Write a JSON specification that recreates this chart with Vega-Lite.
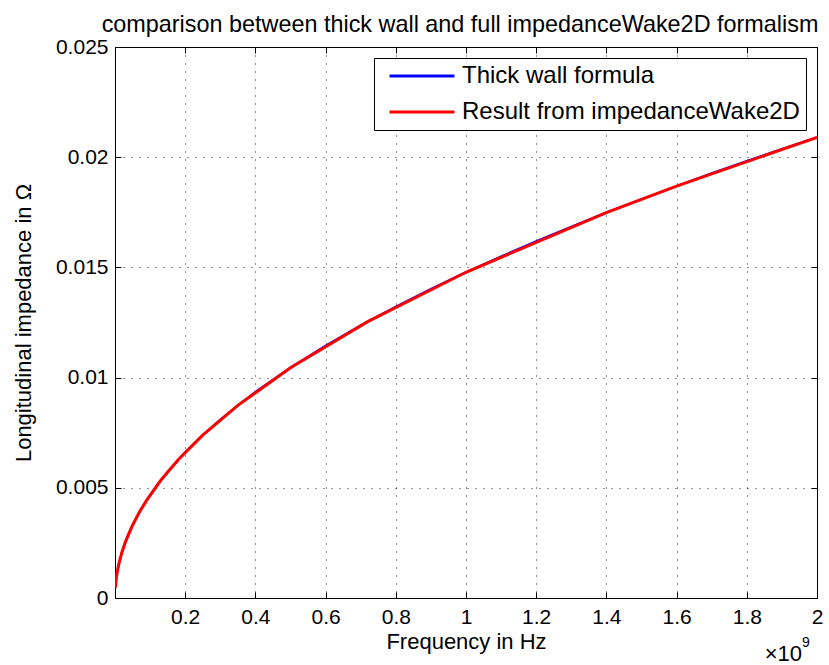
{
  "$schema": "https://vega.github.io/schema/vega-lite/v6.json",
  "width": 702,
  "height": 551,
  "autosize": {"type": "none"},
  "padding": {"left": 115, "top": 47, "right": 12, "bottom": 67},
  "background": "white",
  "title": {
    "text": "comparison between thick wall and full impedanceWake2D formalism",
    "fontSize": 23.4,
    "fontWeight": "normal",
    "color": "black",
    "anchor": "middle",
    "offset": -1,
    "dx": -6
  },
  "config": {
    "font": "Liberation Sans",
    "view": {"stroke": "black", "strokeWidth": 1},
    "axis": {
      "domainColor": "black",
      "tickColor": "black",
      "labelColor": "black",
      "titleColor": "black",
      "labelFontSize": 21,
      "titleFontSize": 22,
      "titleFontWeight": "normal",
      "gridColor": "#222222",
      "gridOpacity": 1,
      "gridDash": [1, 7],
      "gridWidth": 1,
      "tickSize": -6,
      "labelFlush": false,
      "labelOverlap": false
    },
    "legend": {
      "labelFontSize": 24,
      "labelColor": "black",
      "labelLimit": 600
    }
  },
  "data": {
    "values": [
      {"f": 0.001, "z": 0.00047, "series": "Thick wall formula"},
      {"f": 0.003, "z": 0.00081, "series": "Thick wall formula"},
      {"f": 0.005, "z": 0.00105, "series": "Thick wall formula"},
      {"f": 0.01, "z": 0.00148, "series": "Thick wall formula"},
      {"f": 0.02, "z": 0.00209, "series": "Thick wall formula"},
      {"f": 0.03, "z": 0.00256, "series": "Thick wall formula"},
      {"f": 0.04, "z": 0.00296, "series": "Thick wall formula"},
      {"f": 0.06, "z": 0.00362, "series": "Thick wall formula"},
      {"f": 0.08, "z": 0.00418, "series": "Thick wall formula"},
      {"f": 0.1, "z": 0.00467, "series": "Thick wall formula"},
      {"f": 0.12, "z": 0.00512, "series": "Thick wall formula"},
      {"f": 0.15, "z": 0.00572, "series": "Thick wall formula"},
      {"f": 0.2, "z": 0.00661, "series": "Thick wall formula"},
      {"f": 0.25, "z": 0.00739, "series": "Thick wall formula"},
      {"f": 0.3, "z": 0.0081, "series": "Thick wall formula"},
      {"f": 0.4, "z": 0.00935, "series": "Thick wall formula"},
      {"f": 0.5, "z": 0.01045, "series": "Thick wall formula"},
      {"f": 0.6, "z": 0.01145, "series": "Thick wall formula"},
      {"f": 0.7, "z": 0.01237, "series": "Thick wall formula"},
      {"f": 0.8, "z": 0.01322, "series": "Thick wall formula"},
      {"f": 0.9, "z": 0.01402, "series": "Thick wall formula"},
      {"f": 1.0, "z": 0.01478, "series": "Thick wall formula"},
      {"f": 1.1, "z": 0.0155, "series": "Thick wall formula"},
      {"f": 1.2, "z": 0.01619, "series": "Thick wall formula"},
      {"f": 1.3, "z": 0.01685, "series": "Thick wall formula"},
      {"f": 1.4, "z": 0.01749, "series": "Thick wall formula"},
      {"f": 1.5, "z": 0.0181, "series": "Thick wall formula"},
      {"f": 1.6, "z": 0.01869, "series": "Thick wall formula"},
      {"f": 1.7, "z": 0.01927, "series": "Thick wall formula"},
      {"f": 1.8, "z": 0.01983, "series": "Thick wall formula"},
      {"f": 1.9, "z": 0.02037, "series": "Thick wall formula"},
      {"f": 2.0, "z": 0.0209, "series": "Thick wall formula"},
      {"f": 0.001, "z": 0.00047, "series": "Result from impedanceWake2D"},
      {"f": 0.003, "z": 0.00081, "series": "Result from impedanceWake2D"},
      {"f": 0.005, "z": 0.00105, "series": "Result from impedanceWake2D"},
      {"f": 0.01, "z": 0.00148, "series": "Result from impedanceWake2D"},
      {"f": 0.02, "z": 0.00209, "series": "Result from impedanceWake2D"},
      {"f": 0.03, "z": 0.00256, "series": "Result from impedanceWake2D"},
      {"f": 0.05, "z": 0.0033, "series": "Result from impedanceWake2D"},
      {"f": 0.07, "z": 0.00391, "series": "Result from impedanceWake2D"},
      {"f": 0.09, "z": 0.00443, "series": "Result from impedanceWake2D"},
      {"f": 0.13, "z": 0.00533, "series": "Result from impedanceWake2D"},
      {"f": 0.18, "z": 0.00627, "series": "Result from impedanceWake2D"},
      {"f": 0.25, "z": 0.00739, "series": "Result from impedanceWake2D"},
      {"f": 0.35, "z": 0.00874, "series": "Result from impedanceWake2D"},
      {"f": 0.5, "z": 0.01045, "series": "Result from impedanceWake2D"},
      {"f": 0.72, "z": 0.01254, "series": "Result from impedanceWake2D"},
      {"f": 1.0, "z": 0.01478, "series": "Result from impedanceWake2D"},
      {"f": 1.4, "z": 0.01749, "series": "Result from impedanceWake2D"},
      {"f": 1.6, "z": 0.01869, "series": "Result from impedanceWake2D"},
      {"f": 2.0, "z": 0.0209, "series": "Result from impedanceWake2D"}
    ]
  },
  "resolve": {"axis": {"x": "independent", "y": "independent"}},
  "layer": [
    {
      "transform": [{"filter": "datum.series === 'Thick wall formula'"}],
      "mark": {"type": "line", "strokeWidth": 2, "clip": true},
      "encoding": {
        "x": {
          "field": "f",
          "type": "quantitative",
          "scale": {"domain": [0, 2], "nice": false, "zero": false},
          "axis": {
            "orient": "bottom",
            "values": [0.2, 0.4, 0.6, 0.8, 1, 1.2, 1.4, 1.6, 1.8, 2],
            "format": "~g",
            "grid": true,
            "labelPadding": 14,
            "title": "Frequency in Hz",
            "titlePadding": 4
          }
        },
        "y": {
          "field": "z",
          "type": "quantitative",
          "scale": {"domain": [0, 0.025], "nice": false},
          "axis": {
            "orient": "left",
            "values": [0, 0.005, 0.01, 0.015, 0.02, 0.025],
            "format": "~g",
            "grid": true,
            "labelPadding": 13,
            "title": "Longitudinal impedance in Ω",
            "titlePadding": 20
          }
        },
        "color": {
          "field": "series",
          "type": "nominal",
          "scale": {
            "domain": ["Thick wall formula", "Result from impedanceWake2D"],
            "range": ["#0000ff", "#ff0000"]
          },
          "legend": {
            "title": null,
            "orient": "top-right",
            "offset": 11,
            "strokeColor": "black",
            "fillColor": "white",
            "padding": 6,
            "symbolType": "M-0.385,0H9.615",
            "symbolSize": 169,
            "symbolStrokeWidth": 3,
            "labelOffset": 58,
            "rowPadding": 12
          }
        }
      }
    },
    {
      "transform": [{"filter": "datum.series === 'Result from impedanceWake2D'"}],
      "mark": {"type": "line", "strokeWidth": 3, "clip": true},
      "encoding": {
        "x": {
          "field": "f",
          "type": "quantitative",
          "axis": {
            "orient": "top",
            "values": [0.2, 0.4, 0.6, 0.8, 1, 1.2, 1.4, 1.6, 1.8, 2],
            "labels": false,
            "grid": false,
            "title": null
          }
        },
        "y": {
          "field": "z",
          "type": "quantitative",
          "axis": {
            "orient": "right",
            "values": [0, 0.005, 0.01, 0.015, 0.02, 0.025],
            "labels": false,
            "grid": false,
            "title": null
          }
        },
        "color": {"field": "series", "type": "nominal"}
      }
    },
    {
      "data": {"values": [{"label": "×10"}]},
      "mark": {"type": "text", "align": "right", "baseline": "alphabetic", "dx": -15, "dy": 63, "fontSize": 22, "color": "black", "clip": false},
      "encoding": {
        "text": {"field": "label"},
        "x": {"datum": 2, "type": "quantitative", "axis": null},
        "y": {"datum": 0, "type": "quantitative", "axis": null}
      }
    },
    {
      "data": {"values": [{"label": "9"}]},
      "mark": {"type": "text", "align": "left", "baseline": "alphabetic", "dx": -15, "dy": 49, "fontSize": 14, "color": "black", "clip": false},
      "encoding": {
        "text": {"field": "label"},
        "x": {"datum": 2, "type": "quantitative", "axis": null},
        "y": {"datum": 0, "type": "quantitative", "axis": null}
      }
    }
  ]
}
